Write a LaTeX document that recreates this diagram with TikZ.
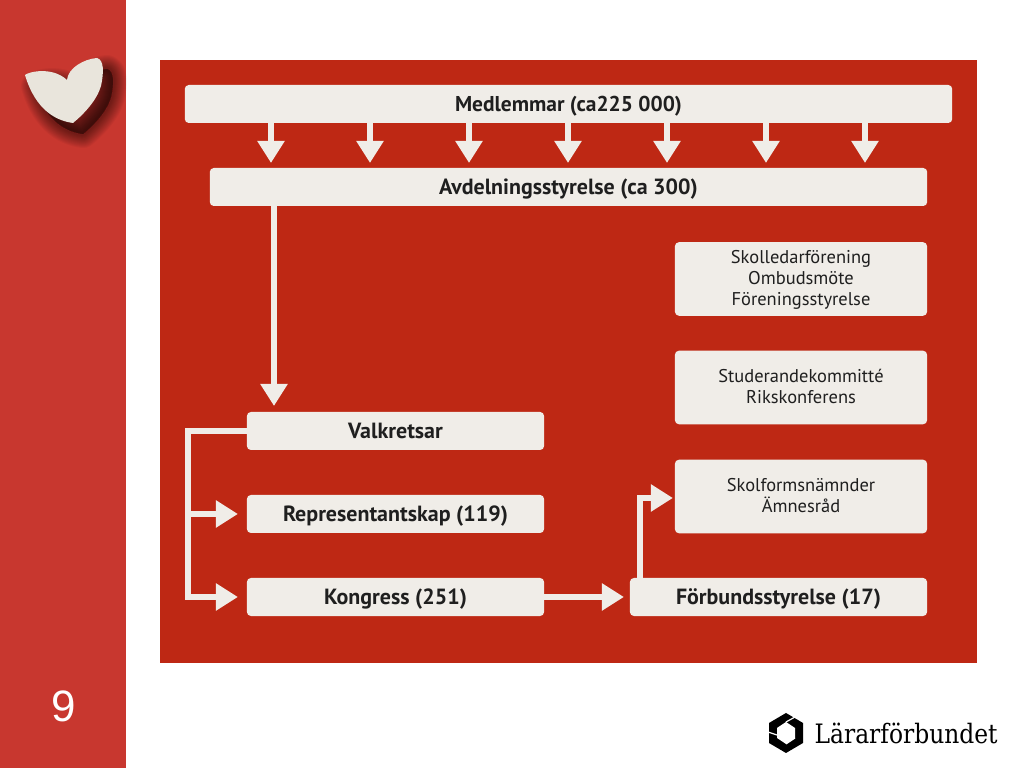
\documentclass[tikz,border=0pt]{standalone}
\usepackage{fontspec}
\setmainfont{PT Sans}
\newfontfamily\logofont{DejaVu Serif}
\newfontfamily\numfont{Liberation Sans}
\usetikzlibrary{arrows.meta}
\definecolor{bandred}{HTML}{C8372F}
\definecolor{panelred}{HTML}{BE2814}
\definecolor{boxcream}{HTML}{F0EDE8}
\definecolor{heartcream}{HTML}{E9E5DC}
\definecolor{inkdark}{HTML}{1F1F1F}
\tikzset{
    box/.style={fill=boxcream, text=inkdark, rounded corners=0.04cm, inner sep=0pt, outer sep=0pt, align=center},
    bigbox/.style={box, font=\fontsize{6.25}{7}\selectfont\bfseries, minimum height=0.38cm, text height=0.155cm, text depth=0pt},
    midbox/.style={bigbox, minimum width=2.97cm},
    softbox/.style={box, font=\fontsize{5.25}{6}\selectfont, minimum width=2.52cm, minimum height=0.735cm, text depth=0.6pt},
    flow/.style={draw=boxcream, line width=0.055cm, -{Triangle[width=0.26cm, length=0.22cm]}}
}
\begin{document}
\begin{tikzpicture}[x=0.01cm, y=-0.01cm]
    \useasboundingbox (0,0) rectangle (1024,768);
    \fill[white] (0,0) rectangle (1024,768);
    \fill[bandred] (0,0) rectangle (126,768);
    \fill[panelred] (160,60) rectangle (977,663);

    % heart with its soft shadow
    \def\heartpath{(25,75) .. controls (28,72) and (52,66) .. (67,80)
        .. controls (68,68) and (84,59) .. (97,58)
        .. controls (104,60) and (104,72) .. (101,86)
        .. controls (97,100) and (84,114) .. (73,123)
        .. controls (58,121) and (36,112) .. (25,75) -- cycle}
    \begin{scope}[xshift=0.1cm, yshift=-0.11cm]
        \foreach \w in {0.28,0.26,...,0.02}
            \fill[black, opacity=0.04, draw=black, line width=\w cm, line join=round] \heartpath;
    \end{scope}
    \fill[heartcream] \heartpath;

    % boxes
    \node[bigbox, minimum width=7.67cm, font=\fontsize{6.1}{7}\selectfont\bfseries] (med) at (568.5,104) {Medlemmar (ca225 000)};
    \node[bigbox, minimum width=7.17cm] (avd) at (568.5,187) {Avdelningsstyrelse (ca 300)};
    \node[softbox] (skl) at (801,279) {Skolledarförening\\Ombudsmöte\\Föreningsstyrelse};
    \node[softbox] (stu) at (801,387.5) {Studerandekommitté\\Rikskonferens};
    \node[softbox] (sko) at (801,496.5) {Skolformsnämnder\\Ämnesråd};
    \node[midbox] (val) at (395.5,431) {Valkretsar};
    \node[midbox] (rep) at (395.5,514) {Representantskap (119)};
    \node[midbox] (kon) at (395.5,597) {Kongress (251)};
    \node[midbox] (for) at (778.5,597) {Förbundsstyrelse (17)};

    % arrows
    \foreach \x in {271,370,469,568,667,766,865}
        \draw[flow, shorten >=0.05cm] (\x,0 |- med.south) -- (\x,0 |- avd.north);
    \coordinate (avdout) at (274,0);
    \coordinate (bus) at (188,0);
    \coordinate (forout) at (640,0);
    \draw[flow, shorten >=0.06cm] (avdout |- avd.south) -- (avdout |- val.north);
    \draw[flow, shorten >=0.09cm] (val.west) -| (bus |- kon.west) -- (kon.west);
    \draw[flow, shorten >=0.09cm] (bus |- rep.west) -- (rep.west);
    \draw[flow, shorten >=0.06cm] (kon.east) -- (for.west);
    \coordinate (skoin) at (0,498);
    \draw[flow, shorten >=0.02cm] (forout |- for.north) |- (sko.west |- skoin);

    % page number and logo
    \node[text=white, font=\fontsize{12.5}{14}\numfont] (num) at (63.5,706) {9};
    \fill[black] (786,713) -- (803,723) -- (803,743) -- (786,753) -- (769,743) -- (769,723) -- cycle;
    \fill[white] (786,722) -- (795,728) -- (795,738) -- (786,744) -- (777,738) -- (777,728) -- cycle;
    \draw[white, line width=0.012cm] (786,722) -- (795,717) (777,735) -- (768,732) (786,744) -- (795,738);
    \node[anchor=west, inner sep=0pt, text=black, font=\fontsize{7.6}{9}\logofont, xscale=0.875, transform shape] (logo) at (814,733) {Lärarförbundet};
\end{tikzpicture}
\end{document}
